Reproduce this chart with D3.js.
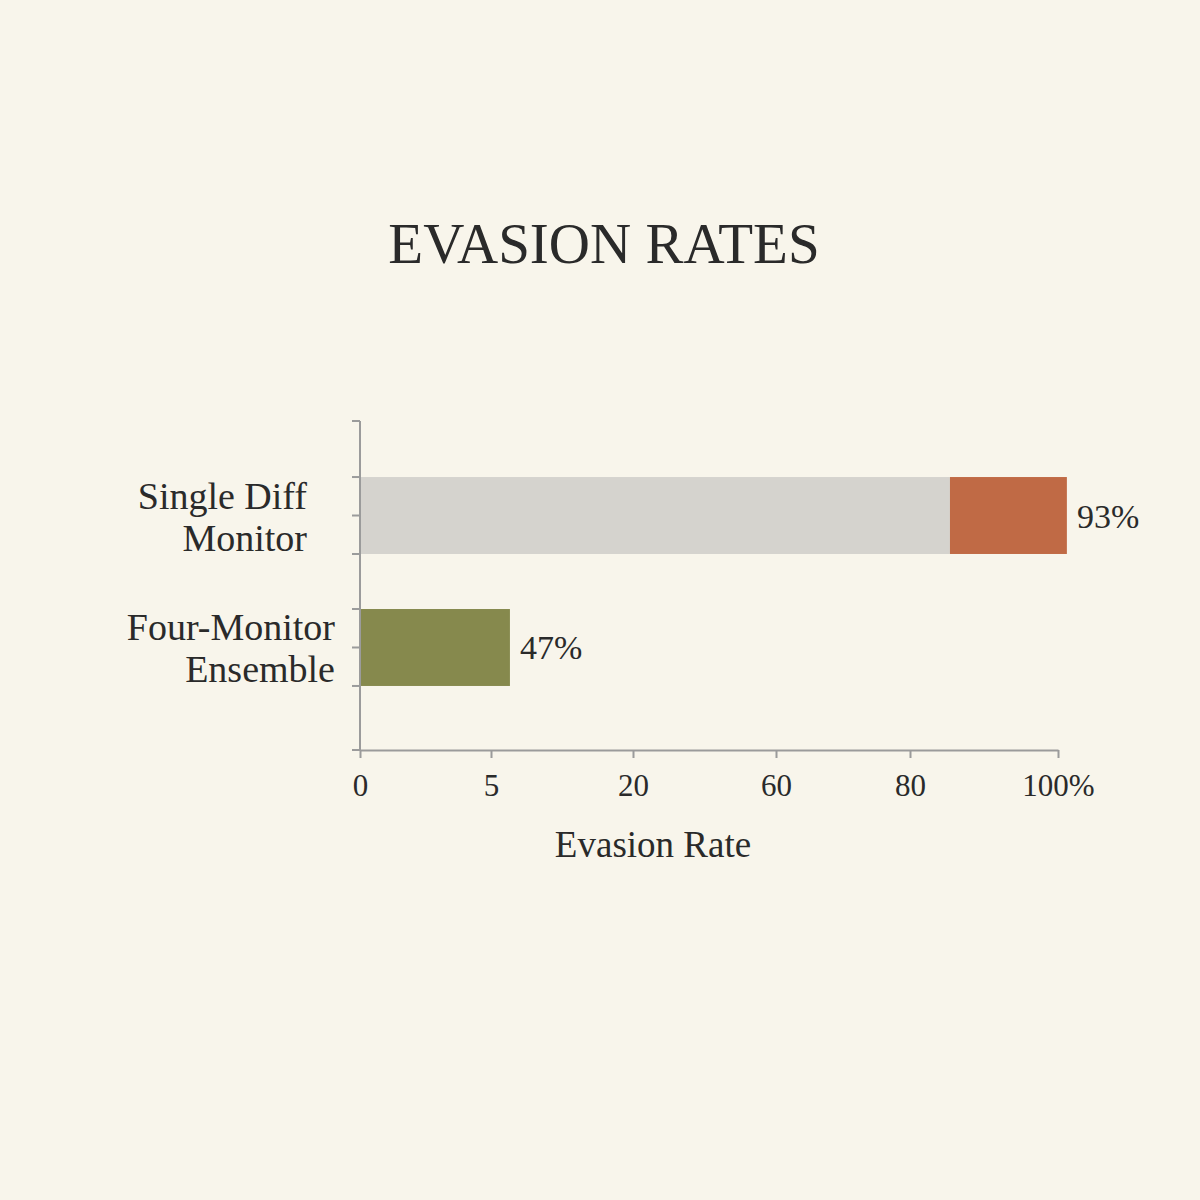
<!DOCTYPE html>
<html>
<head>
<meta charset="utf-8">
<script src="https://cdn.jsdelivr.net/npm/d3@7"></script>
<style>
  body { margin: 0; background: #f8f5eb; }
  svg { display: block; }
</style>
</head>
<body>
<div id="chart"></div>
<script>
// data
const categories = ['Single Diff Monitor', 'Four-Monitor Ensemble'];
const categoryLines = [['Single Diff', 'Monitor'], ['Four-Monitor', 'Ensemble']];
const segCategory = ['Single Diff Monitor', 'Single Diff Monitor', 'Four-Monitor Ensemble'];
const segStart = [0, 85.4, 0];
const segEnd = [85.4, 101.2, 7.0];
const segKind = ['rest', 'single', 'ensemble'];
const valueLabels = ['93%', '47%'];
const xTicks = [0, 5, 20, 60, 80, 100];

const width = 1200;
const height = 1200;
const fontFamily = '"Liberation Serif", "DejaVu Serif", serif';
const textColor = '#2a2a2a';
const axisColor = '#9b9b9b';
const colorMap = { rest: '#d5d3ce', single: '#c06a45', ensemble: '#86894d' };

const svg = d3.select('#chart').append('svg')
    .attr('width', width)
    .attr('height', height);

svg.append('rect').attr('width', width).attr('height', height).attr('fill', '#f8f5eb');

// the axis in the picture is not linear, so map each tick to its own spot
const xScale = d3.scaleLinear()
    .domain(xTicks)
    .range([360, 491, 633, 776, 910, 1058]);

const yScale = d3.scaleBand()
    .domain(categories)
    .range([422, 741])
    .padding(0.417);

const axisY = 750;

svg.append('text')
    .attr('x', 604)
    .attr('y', 263)
    .attr('text-anchor', 'middle')
    .style('font-family', fontFamily)
    .style('font-size', '57px')
    .attr('fill', textColor)
    .text('EVASION RATES');

// bars
const segs = segKind.map((k, i) => ({ cat: segCategory[i], start: segStart[i], end: segEnd[i], kind: k }));
svg.selectAll('.bar')
    .data(segs)
    .join('rect')
    .attr('class', 'bar')
    .attr('x', d => xScale(d.start))
    .attr('y', d => yScale(d.cat))
    .attr('width', d => xScale(d.end) - xScale(d.start))
    .attr('height', yScale.bandwidth())
    .attr('fill', d => colorMap[d.kind]);

// value labels at the end of each bar
categories.forEach((c, i) => {
    const end = d3.max(segs.filter(s => s.cat === c), s => s.end);
    svg.append('text')
        .attr('x', xScale(end) + 10)
        .attr('y', yScale(c) + yScale.bandwidth() / 2 + 12)
        .style('font-family', fontFamily)
        .style('font-size', '34px')
        .attr('fill', textColor)
        .text(valueLabels[i]);
});

// x axis
const xAxis = svg.append('g')
    .attr('transform', `translate(0, ${axisY})`)
    .call(d3.axisBottom(xScale)
        .tickValues(xTicks)
        .tickSize(8)
        .tickSizeOuter(0)
        .tickPadding(16)
        .tickFormat(d => d === 100 ? '100%' : d));
xAxis.select('.domain').attr('stroke', axisColor).attr('stroke-width', 2);
xAxis.selectAll('.tick line').attr('stroke', axisColor).attr('stroke-width', 2);
xAxis.selectAll('.tick text')
    .style('font-family', fontFamily)
    .style('font-size', '31px')
    .attr('fill', textColor);

svg.append('text')
    .attr('x', 653)
    .attr('y', 857)
    .attr('text-anchor', 'middle')
    .style('font-family', fontFamily)
    .style('font-size', '37px')
    .attr('fill', textColor)
    .text('Evasion Rate');

// y axis: line plus ticks at top, middle and bottom of each band
const yAxis = svg.append('g');
yAxis.append('line')
    .attr('x1', xScale(0)).attr('x2', xScale(0))
    .attr('y1', 421).attr('y2', axisY)
    .attr('stroke', axisColor).attr('stroke-width', 2);

let yTicks = [421, axisY];
categories.forEach(c => {
    const y0 = yScale(c);
    yTicks.push(y0, y0 + yScale.bandwidth() / 2, y0 + yScale.bandwidth());
});
yAxis.selectAll('.ytick')
    .data(yTicks)
    .join('line')
    .attr('x1', xScale(0) - 8).attr('x2', xScale(0))
    .attr('y1', d => d).attr('y2', d => d)
    .attr('stroke', axisColor).attr('stroke-width', 2);

// category labels, two lines each
const labelRight = [307, 335];
categories.forEach((c, i) => {
    const mid = yScale(c) + yScale.bandwidth() / 2;
    const t = svg.append('text')
        .attr('text-anchor', 'end')
        .style('font-family', fontFamily)
        .style('font-size', '38px')
        .attr('fill', textColor);
    categoryLines[i].forEach((line, j) => {
        t.append('tspan')
            .attr('x', labelRight[i])
            .attr('y', mid - 7 + j * 42)
            .text(line);
    });
});
</script>
</body>
</html>
